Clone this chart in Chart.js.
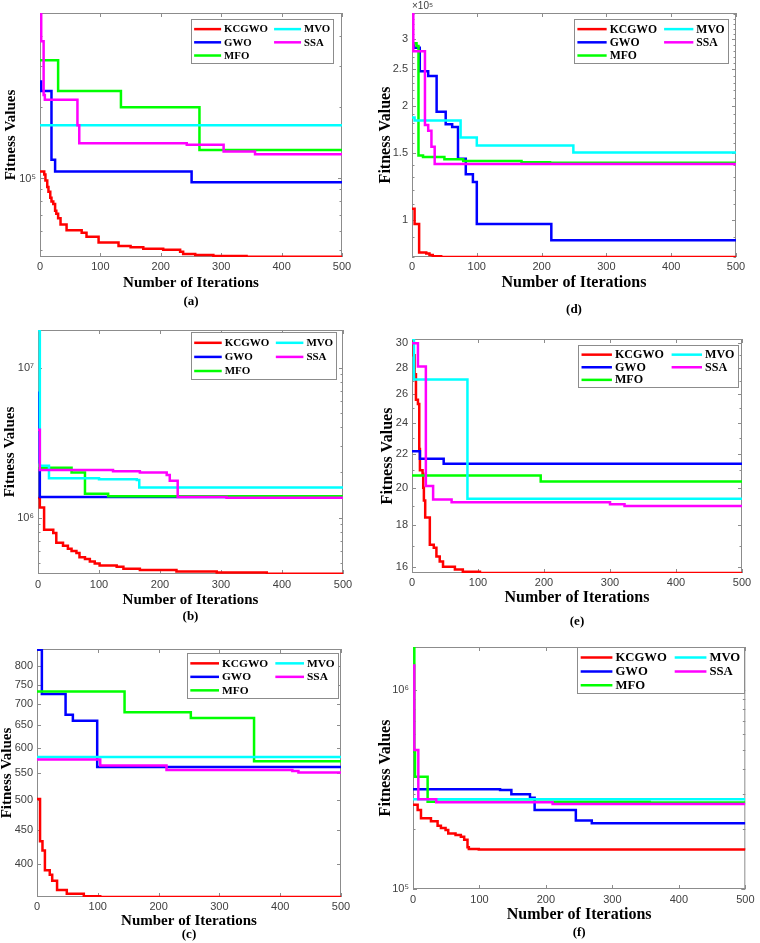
<!DOCTYPE html>
<html>
<head>
<meta charset="utf-8">
<title>Convergence curves</title>
<script src="https://cdn.jsdelivr.net/npm/chart.js@4.4.1/dist/chart.umd.min.js"></script>
<style>
  html, body { margin: 0; padding: 0; background: #fff; }
  #page { position: relative; width: 760px; height: 943px; background: #fff; overflow: hidden; }
  #page canvas { position: absolute; }
</style>
</head>
<body>
<div id="page"></div>
<script>
const SERIES = ["KCGWO", "GWO", "MFO", "MVO", "SSA"];
const COLORS = ["#ff0000", "#0000ff", "#00ff00", "#00ffff", "#ff00ff"];
const X_TICKS = [0, 100, 200, 300, 400, 500];

// each series: [iteration where the best value changes, new best value]
// (a)
const A_KCGWO = [[0, 1.07e5], [7, 1.04e5], [9, 9.8e4], [12, 9.2e4], [14, 8.8e4], [17, 8.3e4], [19, 8.0e4], [22, 7.8e4], [25, 7.3e4], [27, 7.1e4], [30, 6.8e4], [34, 6.4e4], [44, 6.05e4], [69, 5.9e4], [77, 5.67e4], [97, 5.37e4], [130, 5.18e4], [150, 5.12e4], [171, 5.05e4], [204, 5.0e4], [232, 4.9e4], [237, 4.8e4], [257, 4.75e4], [287, 4.7e4], [342, 4.67e4], [500, 4.66e4]];
const A_GWO = [[0, 2.57e5], [2, 2.34e5], [19, 1.2e5], [25, 1.07e5], [251, 9.65e4], [500, 9.65e4]];
const A_MFO = [[0, 3.16e5], [30, 2.34e5], [134, 2.0e5], [264, 1.32e5], [500, 1.32e5]];
const A_MVO = [[0, 1.68e5], [500, 1.68e5]];
const A_SSA = [[0, 4.97e5], [2, 3.8e5], [6, 2.25e5], [8, 2.15e5], [62, 1.68e5], [65, 1.41e5], [243, 1.39e5], [304, 1.3e5], [356, 1.265e5], [500, 1.265e5]];
const A_YRANGE = [4.66e4, 5.0e5];
const A_YTICKS = [1e5];

// (b)
const B_KCGWO = [[0, 1.35e6], [3, 1.17e6], [10, 8.3e5], [25, 7.9e5], [30, 6.8e5], [41, 6.5e5], [49, 6.2e5], [55, 6.0e5], [63, 5.8e5], [68, 5.45e5], [77, 5.3e5], [85, 5.1e5], [93, 4.95e5], [101, 4.8e5], [129, 4.7e5], [140, 4.57e5], [167, 4.48e5], [227, 4.38e5], [293, 4.3e5], [375, 4.22e5], [500, 4.21e5]];
const B_GWO = [[0, 6.8e6], [1, 2.2e6], [3, 1.37e6], [500, 1.37e6]];
const B_MFO = [[0, 2.25e6], [2, 2.15e6], [55, 2.0e6], [77, 1.44e6], [115, 1.39e6], [500, 1.39e6]];
const B_MVO = [[0, 1.78e7], [3, 2.22e6], [18, 1.83e6], [100, 1.8e6], [162, 1.78e6], [166, 1.59e6], [500, 1.59e6]];
const B_SSA = [[0, 3.85e6], [3, 2.08e6], [123, 2.04e6], [167, 2.0e6], [211, 1.92e6], [216, 1.76e6], [229, 1.37e6], [309, 1.355e6], [500, 1.355e6]];
const B_YRANGE = [4.21e5, 1.78e7];
const B_YTICKS = [1e6, 1e7];

// (c)
const C_KCGWO = [[0, 502], [5, 433], [9, 419], [13, 391], [21, 385], [25, 377], [33, 365], [49, 360], [77, 357], [104, 356], [500, 356]];
const C_GWO = [[0, 848], [8, 726], [47, 675], [59, 661], [99, 562], [500, 562]];
const C_MFO = [[0, 732], [144, 681], [253, 667], [357, 573], [500, 573]];
const C_MVO = [[0, 582], [500, 582]];
const C_SSA = [[0, 577], [104, 565], [213, 556], [420, 554], [430, 551], [500, 551]];
const C_YRANGE = [356, 850];
const C_YTICKS = [400, 450, 500, 550, 600, 650, 700, 750, 800];

// (d)
const D_KCGWO = [[0, 1.07e5], [4, 0.975e5], [11, 0.82e5], [22, 0.815e5], [27, 0.808e5], [32, 0.802e5], [45, 0.798e5], [500, 0.798e5]];
const D_GWO = [[0, 2.93e5], [3, 2.85e5], [12, 2.47e5], [25, 2.4e5], [38, 1.93e5], [52, 1.79e5], [62, 1.76e5], [71, 1.45e5], [83, 1.32e5], [94, 1.26e5], [100, 0.975e5], [215, 0.884e5], [500, 0.884e5]];
const D_MFO = [[0, 2.93e5], [7, 2.88e5], [10, 1.48e5], [17, 1.465e5], [50, 1.447e5], [79, 1.43e5], [169, 1.42e5], [213, 1.415e5], [500, 1.415e5]];
const D_MVO = [[0, 1.865e5], [4, 1.83e5], [75, 1.65e5], [100, 1.572e5], [249, 1.506e5], [500, 1.506e5]];
const D_SSA = [[0, 3.52e5], [2, 2.79e5], [20, 1.78e5], [25, 1.72e5], [30, 1.56e5], [35, 1.405e5], [500, 1.405e5]];
const D_YRANGE = [0.798e5, 3.52e5];
const D_YTICKS = [1e5, 1.5e5, 2e5, 2.5e5, 3e5];

// (e)
const E_KCGWO = [[0, 30.3], [2, 29.0], [4, 27.5], [6, 25.6], [9, 25.3], [11, 22.3], [12, 21.0], [16, 20.8], [17, 20.0], [18, 19.3], [20, 18.4], [27, 17.05], [33, 16.9], [37, 16.5], [42, 16.27], [47, 16.03], [65, 15.9], [77, 15.8], [103, 15.75], [500, 15.75]];
const E_GWO = [[0, 22.15], [12, 21.7], [48, 21.4], [500, 21.4]];
const E_MFO = [[0, 20.7], [195, 20.35], [500, 20.35]];
const E_MVO = [[0, 30.35], [3, 27.1], [84, 19.4], [500, 19.4]];
const E_SSA = [[0, 30.0], [9, 28.1], [21, 20.1], [32, 19.35], [60, 19.2], [300, 19.1], [322, 19.0], [500, 19.0]];
const E_YRANGE = [15.75, 30.35];
const E_YTICKS = [16, 18, 20, 22, 24, 26, 28, 30];

// (f)
const F_KCGWO = [[0, 2.65e5], [7, 2.5e5], [12, 2.27e5], [27, 2.19e5], [37, 2.08e5], [42, 2.03e5], [49, 1.98e5], [53, 1.9e5], [64, 1.87e5], [72, 1.83e5], [77, 1.77e5], [82, 1.62e5], [84, 1.59e5], [99, 1.578e5], [500, 1.575e5]];
const F_GWO = [[0, 3.18e5], [131, 3.15e5], [148, 3.0e5], [176, 2.88e5], [183, 2.5e5], [245, 2.21e5], [269, 2.14e5], [500, 2.14e5]];
const F_MFO = [[0, 1.65e6], [2, 4.9e5], [3, 3.67e5], [22, 2.75e5], [356, 2.72e5], [500, 2.72e5]];
const F_MVO = [[0, 2.83e5], [500, 2.83e5]];
const F_SSA = [[0, 1.33e6], [2, 5.0e5], [8, 2.83e5], [35, 2.73e5], [210, 2.68e5], [500, 2.68e5]];
const F_YRANGE = [1e5, 1.65e6];
const F_YTICKS = [1e5, 1e6];

const SUP = "⁰¹²³⁴⁵⁶⁷⁸⁹";
const fmtPow = (v) => "10" + String(Math.round(Math.log10(v))).split("").map((d) => SUP[+d]).join("");
const fmtE5 = (v) => String(+(v / 1e5).toFixed(1));
const fmtInt = (v) => String(v);

// page layout: box = canvas [left, top, w, h], plot = [left, top, right, bottom]
const PANELS = [
  { tag: "(a)", series: [A_KCGWO, A_GWO, A_MFO, A_MVO, A_SSA], range: A_YRANGE, labels: A_YTICKS, fmt: fmtPow, minor: "decade",
    box: [0, 0, 375, 312], plot: [40, 13, 342, 257], yTitleX: 11, xTickY: 267, xTitleY: 283, capY: 302, titleSize: 15,
    legend: { mr: 9, mt: 6, w: 142, h: 44 } },
  { tag: "(d)", series: [D_KCGWO, D_GWO, D_MFO, D_MVO, D_SSA], range: D_YRANGE, labels: D_YTICKS, fmt: fmtE5, minor: 1e4, exp: "×10⁵",
    box: [378, 0, 382, 318], plot: [412, 13, 736, 257], yTitleX: 384.5, xTickY: 267, xTitleY: 283, capY: 310, titleSize: 16,
    legend: { mr: 8, mt: 6, w: 154, h: 44 } },
  { tag: "(b)", series: [B_KCGWO, B_GWO, B_MFO, B_MVO, B_SSA], range: B_YRANGE, labels: B_YTICKS, fmt: fmtPow, minor: "decade",
    box: [0, 316, 375, 308], plot: [38, 330, 343, 574], yTitleX: 10, xTickY: 585, xTitleY: 600, capY: 617, titleSize: 15,
    legend: { mr: 7, mt: 2, w: 145, h: 47 } },
  { tag: "(e)", series: [E_KCGWO, E_GWO, E_MFO, E_MVO, E_SSA], range: E_YRANGE, labels: E_YTICKS, fmt: fmtInt, minor: 1,
    box: [378, 324, 382, 306], plot: [412, 339, 742, 573], yTitleX: 387.5, xTickY: 583, xTitleY: 598, capY: 622, titleSize: 16,
    legend: { mr: 4, mt: 6, w: 160, h: 42 } },
  { tag: "(c)", series: [C_KCGWO, C_GWO, C_MFO, C_MVO, C_SSA], range: C_YRANGE, labels: C_YTICKS, fmt: fmtInt, minor: null,
    box: [0, 634, 375, 309], plot: [37, 649, 341, 897], yTitleX: 7.5, xTickY: 907, xTitleY: 921, capY: 935, titleSize: 15,
    legend: { mr: 3, mt: 4, w: 151, h: 45 } },
  { tag: "(f)", series: [F_KCGWO, F_GWO, F_MFO, F_MVO, F_SSA], range: F_YRANGE, labels: F_YTICKS, fmt: fmtPow, minor: "decade",
    box: [378, 632, 382, 311], plot: [413, 647, 751, 889], yTitleX: 381, xTickY: 900, xTitleY: 915, capY: 933, titleSize: 16,
    legend: { mr: 1, mt: 0, w: 167, h: 46 } },
];

// legend slots (column, row) in MATLAB's two-column order
const LEGEND_SLOTS = [[0, 0], [0, 1], [0, 2], [1, 0], [1, 1]];
const FRAME = "#8c8c8c";
const TICK_TEXT = "#404040";
const SERIF = '"Liberation Serif", "Times New Roman", serif';
const SANS = '"Liberation Sans", Arial, sans-serif';

function yTickValues(p) {
  const [min, max] = p.range;
  const vals = [...p.labels];
  if (p.minor === "decade") {
    for (let k = Math.floor(Math.log10(min)); k <= Math.ceil(Math.log10(max)); k++) {
      for (let m = 2; m <= 9; m++) {
        const v = m * Math.pow(10, k);
        if (v >= min && v <= max) vals.push(v);
      }
    }
  } else if (p.minor) {
    for (let v = Math.ceil(min / p.minor) * p.minor; v <= max; v += p.minor) {
      if (!p.labels.some((l) => Math.abs(l - v) < p.minor * 0.01)) vals.push(v);
    }
  }
  return vals.sort((a, b) => a - b);
}

const axesBox = {
  id: "axesBox",
  beforeDatasetsDraw(chart) {
    const { ctx, chartArea: a, scales } = chart;
    ctx.save();
    ctx.strokeStyle = FRAME;
    ctx.lineWidth = 1;
    ctx.strokeRect(a.left + 0.5, a.top + 0.5, a.right - a.left - 1, a.bottom - a.top - 1);
    ctx.beginPath();
    scales.x.ticks.forEach((t) => {
      const px = Math.round(scales.x.getPixelForValue(t.value)) + 0.5;
      ctx.moveTo(px, a.bottom); ctx.lineTo(px, a.bottom - 4);
      ctx.moveTo(px, a.top); ctx.lineTo(px, a.top + 4);
    });
    scales.y.ticks.forEach((t) => {
      const py = Math.round(scales.y.getPixelForValue(t.value)) + 0.5;
      const len = t.label ? 4 : 2.5;
      ctx.moveTo(a.left, py); ctx.lineTo(a.left + len, py);
      ctx.moveTo(a.right, py); ctx.lineTo(a.right - len, py);
    });
    ctx.stroke();
    ctx.restore();
  },
  afterDraw(chart) {
    const p = chart.options.plugins.axesBox.panel;
    const { ctx, chartArea: a } = chart;
    const lg = p.legend;
    const lx = Math.round(a.right - lg.mr - lg.w);
    const ly = Math.round(a.top + lg.mt);
    ctx.save();
    ctx.fillStyle = "#fff";
    ctx.fillRect(lx, ly, lg.w, lg.h);
    ctx.strokeStyle = FRAME;
    ctx.lineWidth = 1;
    ctx.strokeRect(lx + 0.5, ly + 0.5, lg.w, lg.h);
    const fs = lg.w / 13.2;
    const lineLen = lg.w * 0.19;
    const rows = [0.23, 0.53, 0.83];
    const cols = [0.022, 0.585];
    ctx.font = `bold ${fs.toFixed(1)}px ${SERIF}`;
    ctx.textBaseline = "middle";
    SERIES.forEach((name, i) => {
      const [c, r] = LEGEND_SLOTS[i];
      const x0 = lx + lg.w * cols[c];
      const yy = ly + lg.h * rows[r];
      ctx.strokeStyle = COLORS[i];
      ctx.lineWidth = 2.5;
      ctx.beginPath();
      ctx.moveTo(x0, yy); ctx.lineTo(x0 + lineLen, yy);
      ctx.stroke();
      ctx.fillStyle = "#000";
      ctx.fillText(name, x0 + lineLen + 3, yy + 0.5);
    });
    // caption under the axis title
    ctx.font = `bold 13px ${SERIF}`;
    ctx.textAlign = "center";
    ctx.fillText(p.tag, (a.left + a.right) / 2, p.capY - p.box[1]);
    if (p.exp) {
      ctx.font = `10px ${SANS}`;
      ctx.fillStyle = TICK_TEXT;
      ctx.textAlign = "left";
      ctx.textBaseline = "bottom";
      ctx.fillText(p.exp, a.left, a.top - 2);
    }
    ctx.restore();
  },
};

const page = document.getElementById("page");

PANELS.forEach((p) => {
  const [bx, by, bw, bh] = p.box;
  const [pl, pt, pr, pb] = p.plot;
  const canvas = document.createElement("canvas");
  canvas.width = bw;
  canvas.height = bh;
  canvas.style.left = bx + "px";
  canvas.style.top = by + "px";
  page.appendChild(canvas);

  const ts = p.titleSize;
  const yTicks = yTickValues(p);
  const labelSet = new Set(p.labels);

  new Chart(canvas, {
    type: "line",
    data: {
      datasets: SERIES.map((name, i) => ({
        label: name,
        data: p.series[i].map(([x, y]) => ({ x, y })),
        borderColor: COLORS[i],
        backgroundColor: COLORS[i],
        borderWidth: 2.5,
        stepped: true,
        pointRadius: 0,
        fill: false,
        order: SERIES.length - 1 - i,
      })),
    },
    options: {
      responsive: false,
      animation: false,
      devicePixelRatio: 1,
      layout: { padding: { left: 0, top: pt - by, right: bx + bw - pr, bottom: 0 } },
      plugins: {
        legend: { display: false },
        tooltip: { enabled: false },
        axesBox: { panel: p },
      },
      scales: {
        x: {
          type: "linear",
          min: 0,
          max: 500,
          afterBuildTicks: (s) => { s.ticks = X_TICKS.map((v) => ({ value: v })); },
          afterFit: (s) => { s.height = by + bh - pb; },
          grid: { display: false, drawTicks: false },
          border: { display: false },
          ticks: {
            font: { family: SANS, size: 11, lineHeight: 1 },
            color: TICK_TEXT,
            padding: p.xTickY - pb - 5.5,
            maxRotation: 0,
            autoSkip: false,
          },
          title: {
            display: true,
            text: "Number of Iterations",
            color: "#000",
            font: { family: SERIF, weight: "bold", size: ts, lineHeight: 1 },
            padding: { top: 0, bottom: by + bh - p.xTitleY - ts / 2 },
          },
        },
        y: {
          type: "logarithmic",
          min: p.range[0],
          max: p.range[1],
          afterBuildTicks: (s) => { s.ticks = yTicks.map((v) => ({ value: v })); },
          afterFit: (s) => { s.width = pl - bx; },
          grid: { display: false, drawTicks: false },
          border: { display: false },
          ticks: {
            font: { family: SANS, size: 11, lineHeight: 1 },
            color: TICK_TEXT,
            padding: 4,
            autoSkip: false,
            callback: (v) => (labelSet.has(v) ? p.fmt(v) : ""),
          },
          title: {
            display: true,
            text: "Fitness Values",
            color: "#000",
            font: { family: SERIF, weight: "bold", size: ts, lineHeight: 1 },
            padding: { top: Math.max(0, p.yTitleX - bx - ts / 2), bottom: 0 },
          },
        },
      },
    },
    plugins: [axesBox],
  });
});
</script>
</body>
</html>
